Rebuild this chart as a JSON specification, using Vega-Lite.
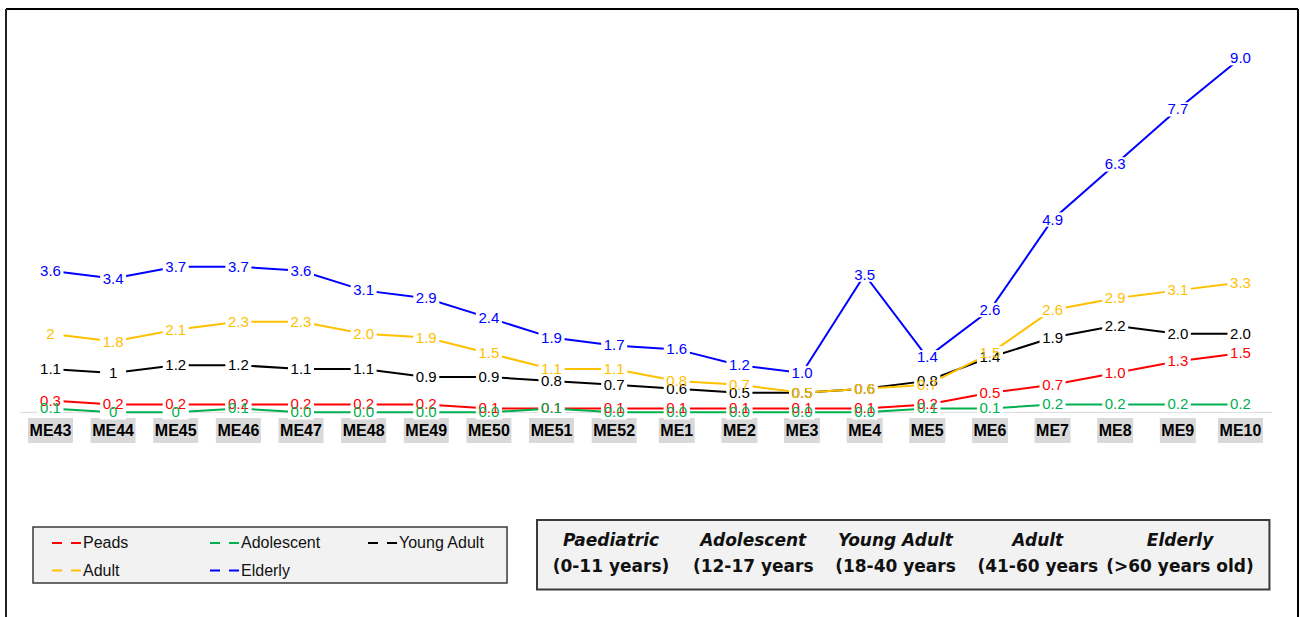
{
  "$schema": "https://vega.github.io/schema/vega-lite/v6.json",
  "width": 1292,
  "height": 608,
  "padding": {"left": 6, "top": 9, "right": 2, "bottom": 0},
  "autosize": {"type": "none"},
  "background": "white",
  "config": {"view": {"stroke": null}, "font": "Liberation Sans"},
  "data": {"values": [{}]},
  "datasets": {
    "main": [
      {"week":"ME43","group":"Peads","value":0.3,"lbl":"0.3"},
      {"week":"ME44","group":"Peads","value":0.2,"lbl":"0.2"},
      {"week":"ME45","group":"Peads","value":0.2,"lbl":"0.2"},
      {"week":"ME46","group":"Peads","value":0.2,"lbl":"0.2"},
      {"week":"ME47","group":"Peads","value":0.2,"lbl":"0.2"},
      {"week":"ME48","group":"Peads","value":0.2,"lbl":"0.2"},
      {"week":"ME49","group":"Peads","value":0.2,"lbl":"0.2"},
      {"week":"ME50","group":"Peads","value":0.1,"lbl":"0.1"},
      {"week":"ME51","group":"Peads","value":0.1,"lbl":"0.1"},
      {"week":"ME52","group":"Peads","value":0.1,"lbl":"0.1"},
      {"week":"ME1","group":"Peads","value":0.1,"lbl":"0.1"},
      {"week":"ME2","group":"Peads","value":0.1,"lbl":"0.1"},
      {"week":"ME3","group":"Peads","value":0.1,"lbl":"0.1"},
      {"week":"ME4","group":"Peads","value":0.1,"lbl":"0.1"},
      {"week":"ME5","group":"Peads","value":0.2,"lbl":"0.2"},
      {"week":"ME6","group":"Peads","value":0.5,"lbl":"0.5"},
      {"week":"ME7","group":"Peads","value":0.7,"lbl":"0.7"},
      {"week":"ME8","group":"Peads","value":1.0,"lbl":"1.0"},
      {"week":"ME9","group":"Peads","value":1.3,"lbl":"1.3"},
      {"week":"ME10","group":"Peads","value":1.5,"lbl":"1.5"},
      {"week":"ME43","group":"Adolescent","value":0.1,"lbl":"0.1"},
      {"week":"ME44","group":"Adolescent","value":0,"lbl":"0"},
      {"week":"ME45","group":"Adolescent","value":0,"lbl":"0"},
      {"week":"ME46","group":"Adolescent","value":0.1,"lbl":"0.1"},
      {"week":"ME47","group":"Adolescent","value":0.0,"lbl":"0.0"},
      {"week":"ME48","group":"Adolescent","value":0.0,"lbl":"0.0"},
      {"week":"ME49","group":"Adolescent","value":0.0,"lbl":"0.0"},
      {"week":"ME50","group":"Adolescent","value":0.0,"lbl":"0.0"},
      {"week":"ME51","group":"Adolescent","value":0.1,"lbl":"0.1"},
      {"week":"ME52","group":"Adolescent","value":0.0,"lbl":"0.0"},
      {"week":"ME1","group":"Adolescent","value":0.0,"lbl":"0.0"},
      {"week":"ME2","group":"Adolescent","value":0.0,"lbl":"0.0"},
      {"week":"ME3","group":"Adolescent","value":0.0,"lbl":"0.0"},
      {"week":"ME4","group":"Adolescent","value":0.0,"lbl":"0.0"},
      {"week":"ME5","group":"Adolescent","value":0.1,"lbl":"0.1"},
      {"week":"ME6","group":"Adolescent","value":0.1,"lbl":"0.1"},
      {"week":"ME7","group":"Adolescent","value":0.2,"lbl":"0.2"},
      {"week":"ME8","group":"Adolescent","value":0.2,"lbl":"0.2"},
      {"week":"ME9","group":"Adolescent","value":0.2,"lbl":"0.2"},
      {"week":"ME10","group":"Adolescent","value":0.2,"lbl":"0.2"},
      {"week":"ME43","group":"Young Adult","value":1.1,"lbl":"1.1"},
      {"week":"ME44","group":"Young Adult","value":1.0,"lbl":"1"},
      {"week":"ME45","group":"Young Adult","value":1.2,"lbl":"1.2"},
      {"week":"ME46","group":"Young Adult","value":1.2,"lbl":"1.2"},
      {"week":"ME47","group":"Young Adult","value":1.1,"lbl":"1.1"},
      {"week":"ME48","group":"Young Adult","value":1.1,"lbl":"1.1"},
      {"week":"ME49","group":"Young Adult","value":0.9,"lbl":"0.9"},
      {"week":"ME50","group":"Young Adult","value":0.9,"lbl":"0.9"},
      {"week":"ME51","group":"Young Adult","value":0.8,"lbl":"0.8"},
      {"week":"ME52","group":"Young Adult","value":0.7,"lbl":"0.7"},
      {"week":"ME1","group":"Young Adult","value":0.6,"lbl":"0.6"},
      {"week":"ME2","group":"Young Adult","value":0.5,"lbl":"0.5"},
      {"week":"ME3","group":"Young Adult","value":0.5,"lbl":"0.5"},
      {"week":"ME4","group":"Young Adult","value":0.6,"lbl":"0.6"},
      {"week":"ME5","group":"Young Adult","value":0.8,"lbl":"0.8"},
      {"week":"ME6","group":"Young Adult","value":1.4,"lbl":"1.4"},
      {"week":"ME7","group":"Young Adult","value":1.9,"lbl":"1.9"},
      {"week":"ME8","group":"Young Adult","value":2.2,"lbl":"2.2"},
      {"week":"ME9","group":"Young Adult","value":2.0,"lbl":"2.0"},
      {"week":"ME10","group":"Young Adult","value":2.0,"lbl":"2.0"},
      {"week":"ME43","group":"Adult","value":2.0,"lbl":"2"},
      {"week":"ME44","group":"Adult","value":1.8,"lbl":"1.8"},
      {"week":"ME45","group":"Adult","value":2.1,"lbl":"2.1"},
      {"week":"ME46","group":"Adult","value":2.3,"lbl":"2.3"},
      {"week":"ME47","group":"Adult","value":2.3,"lbl":"2.3"},
      {"week":"ME48","group":"Adult","value":2.0,"lbl":"2.0"},
      {"week":"ME49","group":"Adult","value":1.9,"lbl":"1.9"},
      {"week":"ME50","group":"Adult","value":1.5,"lbl":"1.5"},
      {"week":"ME51","group":"Adult","value":1.1,"lbl":"1.1"},
      {"week":"ME52","group":"Adult","value":1.1,"lbl":"1.1"},
      {"week":"ME1","group":"Adult","value":0.8,"lbl":"0.8"},
      {"week":"ME2","group":"Adult","value":0.7,"lbl":"0.7"},
      {"week":"ME3","group":"Adult","value":0.5,"lbl":"0.5"},
      {"week":"ME4","group":"Adult","value":0.6,"lbl":"0.6"},
      {"week":"ME5","group":"Adult","value":0.7,"lbl":"0.7"},
      {"week":"ME6","group":"Adult","value":1.5,"lbl":"1.5"},
      {"week":"ME7","group":"Adult","value":2.6,"lbl":"2.6"},
      {"week":"ME8","group":"Adult","value":2.9,"lbl":"2.9"},
      {"week":"ME9","group":"Adult","value":3.1,"lbl":"3.1"},
      {"week":"ME10","group":"Adult","value":3.3,"lbl":"3.3"},
      {"week":"ME43","group":"Elderly","value":3.6,"lbl":"3.6"},
      {"week":"ME44","group":"Elderly","value":3.4,"lbl":"3.4"},
      {"week":"ME45","group":"Elderly","value":3.7,"lbl":"3.7"},
      {"week":"ME46","group":"Elderly","value":3.7,"lbl":"3.7"},
      {"week":"ME47","group":"Elderly","value":3.6,"lbl":"3.6"},
      {"week":"ME48","group":"Elderly","value":3.1,"lbl":"3.1"},
      {"week":"ME49","group":"Elderly","value":2.9,"lbl":"2.9"},
      {"week":"ME50","group":"Elderly","value":2.4,"lbl":"2.4"},
      {"week":"ME51","group":"Elderly","value":1.9,"lbl":"1.9"},
      {"week":"ME52","group":"Elderly","value":1.7,"lbl":"1.7"},
      {"week":"ME1","group":"Elderly","value":1.6,"lbl":"1.6"},
      {"week":"ME2","group":"Elderly","value":1.2,"lbl":"1.2"},
      {"week":"ME3","group":"Elderly","value":1.0,"lbl":"1.0"},
      {"week":"ME4","group":"Elderly","value":3.5,"lbl":"3.5"},
      {"week":"ME5","group":"Elderly","value":1.4,"lbl":"1.4"},
      {"week":"ME6","group":"Elderly","value":2.6,"lbl":"2.6"},
      {"week":"ME7","group":"Elderly","value":4.9,"lbl":"4.9"},
      {"week":"ME8","group":"Elderly","value":6.3,"lbl":"6.3"},
      {"week":"ME9","group":"Elderly","value":7.7,"lbl":"7.7"},
      {"week":"ME10","group":"Elderly","value":9.0,"lbl":"9.0"}
    ],
    "weeks": [
      {"week":"ME43"},{"week":"ME44"},{"week":"ME45"},{"week":"ME46"},{"week":"ME47"},
      {"week":"ME48"},{"week":"ME49"},{"week":"ME50"},{"week":"ME51"},{"week":"ME52"},
      {"week":"ME1"},{"week":"ME2"},{"week":"ME3"},{"week":"ME4"},{"week":"ME5"},
      {"week":"ME6"},{"week":"ME7"},{"week":"ME8"},{"week":"ME9"},{"week":"ME10"}
    ],
    "table": [
      {"head":"Paediatric","range":"(0-11 years)"},
      {"head":"Adolescent","range":"(12-17 years"},
      {"head":"Young Adult","range":"(18-40 years"},
      {"head":"Adult","range":"(41-60 years"},
      {"head":"Elderly","range":"(>60 years old)"}
    ]
  },
  "resolve": {"scale": {"x": "independent"}},
  "layer": [
    {
      "mark": {"type": "rule", "color": "black", "strokeWidth": 2},
      "encoding": {"y": {"datum": 10.25, "type": "quantitative", "scale": {"domain": [-5.2, 10.25], "nice": false, "zero": false}, "axis": null}}
    },
    {
      "mark": {"type": "rule", "color": "#222222", "strokeWidth": 2},
      "encoding": {"x": {"datum": 0, "type": "quantitative", "scale": {"domain": [0, 100], "nice": false, "zero": false}, "axis": null}}
    },
    {
      "mark": {"type": "rule", "color": "black", "strokeWidth": 2},
      "encoding": {"x": {"datum": 100, "type": "quantitative", "scale": {"domain": [0, 100], "nice": false, "zero": false}, "axis": null}}
    },
    {
      "mark": {"type": "rule", "color": "#d9d9d9", "strokeWidth": 1},
      "encoding": {
        "x": {"datum": 1.08, "type": "quantitative", "scale": {"domain": [0, 100], "nice": false, "zero": false}, "axis": null},
        "x2": {"datum": 97.99},
        "y": {"datum": 0, "type": "quantitative", "scale": {"domain": [-5.2, 10.25], "nice": false, "zero": false}, "axis": null}
      }
    },
    {
      "mark": {"type": "rect", "fill": "#f2f2f2", "stroke": "#3a3a3a", "strokeWidth": 1.5},
      "encoding": {
        "x": {"datum": 2.09, "type": "quantitative", "scale": {"domain": [0, 100], "nice": false, "zero": false}, "axis": null},
        "x2": {"datum": 38.78},
        "y": {"datum": -2.915, "type": "quantitative", "scale": {"domain": [-5.2, 10.25], "nice": false, "zero": false}, "axis": null},
        "y2": {"datum": -4.338}
      }
    },
    {
      "mark": {"type": "rect", "fill": "#f2f2f2", "stroke": "#3a3a3a", "strokeWidth": 2},
      "encoding": {
        "x": {"datum": 41.1, "type": "quantitative", "scale": {"domain": [0, 100], "nice": false, "zero": false}, "axis": null},
        "x2": {"datum": 97.79},
        "y": {"datum": -2.737, "type": "quantitative", "scale": {"domain": [-5.2, 10.25], "nice": false, "zero": false}, "axis": null},
        "y2": {"datum": -4.503}
      }
    },
    {
      "data": {"name": "weeks"},
      "encoding": {
        "x": {"field": "week", "type": "nominal", "scale": {"type": "point", "domain": ["ME43","ME44","ME45","ME46","ME47","ME48","ME49","ME50","ME51","ME52","ME1","ME2","ME3","ME4","ME5","ME6","ME7","ME8","ME9","ME10"], "padding": 0.8145, "align": 0.436}, "axis": null},
        "y": {"datum": -0.4625, "type": "quantitative", "scale": {"domain": [-5.2, 10.25], "nice": false, "zero": false}, "axis": null}
      },
      "layer": [
        {
          "mark": {"type": "point", "filled": true, "color": "#d9d9d9", "opacity": 1, "size": 2025, "strokeWidth": 0},
          "encoding": {
            "shape": {"condition": {"test": "length(datum.week) > 3", "value": "M-1,-0.556H1V0.556H-1Z"}, "value": "M-0.8,-0.556H0.8V0.556H-0.8Z"}
          }
        },
        {
          "mark": {"type": "text", "font": "Liberation Sans", "fontSize": 16, "fontWeight": "bold", "color": "black", "baseline": "middle", "align": "center"},
          "encoding": {"text": {"field": "week"}}
        }
      ]
    },
    {
      "data": {"name": "main"},
      "encoding": {
        "x": {"field": "week", "type": "nominal", "scale": {"type": "point", "domain": ["ME43","ME44","ME45","ME46","ME47","ME48","ME49","ME50","ME51","ME52","ME1","ME2","ME3","ME4","ME5","ME6","ME7","ME8","ME9","ME10"], "padding": 0.8145, "align": 0.436}, "axis": null},
        "y": {"field": "value", "type": "quantitative", "scale": {"domain": [-5.2, 10.25], "nice": false, "zero": false}, "axis": null}
      },
      "layer": [
        {
          "mark": {"type": "line", "strokeWidth": 2},
          "encoding": {
            "color": {
              "field": "group", "type": "nominal",
              "scale": {"domain": ["Peads","Adolescent","Young Adult","Adult","Elderly"], "range": ["#ff0000","#00b050","#000000","#ffc000","#0000ff"]},
              "legend": {
                "orient": "none", "legendX": 45, "legendY": 525, "direction": "horizontal", "columns": 3,
                "title": null, "padding": 0, "gridAlign": "all", "columnPadding": 37, "rowPadding": 10.6,
                "symbolType": "M-1,0H0.25M1.375,0H2.625", "symbolSize": 256, "symbolStrokeWidth": 2,
                "labelOffset": 14, "labelFontSize": 16, "labelFont": "Liberation Sans", "labelColor": "#111111"
              }
            }
          }
        },
        {
          "mark": {"type": "point", "filled": true, "color": "white", "opacity": 1, "size": 676, "strokeWidth": 0, "shape": "M-1,-0.55H1V0.55H-1Z"}
        },
        {
          "mark": {"type": "text", "font": "Liberation Sans", "fontSize": 15, "baseline": "middle", "align": "center"},
          "encoding": {
            "text": {"field": "lbl"},
            "color": {"field": "group", "type": "nominal", "scale": {"domain": ["Peads","Adolescent","Young Adult","Adult","Elderly"], "range": ["#ff0000","#00b050","#000000","#ffc000","#0000ff"]}, "legend": null}
          }
        }
      ]
    },
    {
      "data": {"name": "table"},
      "encoding": {
        "x": {"field": "head", "type": "nominal", "scale": {"type": "point", "domain": ["Paediatric","Adolescent","Young Adult","Adult","Elderly"], "range": [605, 1174], "padding": 0}, "axis": null}
      },
      "layer": [
        {
          "mark": {"type": "text", "font": "DejaVu Sans", "fontSize": 17, "fontWeight": "bold", "fontStyle": "italic", "color": "#111111", "baseline": "middle", "align": "center"},
          "encoding": {
            "y": {"datum": -3.27, "type": "quantitative", "scale": {"domain": [-5.2, 10.25], "nice": false, "zero": false}, "axis": null},
            "text": {"field": "head"}
          }
        },
        {
          "mark": {"type": "text", "font": "DejaVu Sans", "fontSize": 17, "fontWeight": "bold", "color": "#111111", "baseline": "middle", "align": "center"},
          "encoding": {
            "y": {"datum": -3.93, "type": "quantitative", "scale": {"domain": [-5.2, 10.25], "nice": false, "zero": false}, "axis": null},
            "text": {"field": "range"}
          }
        }
      ]
    }
  ]
}
